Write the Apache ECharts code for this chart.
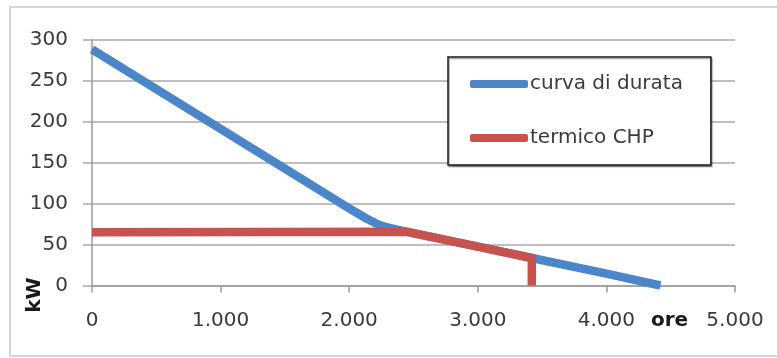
<!DOCTYPE html>
<html>
<head>
<meta charset="utf-8">
<script src="https://cdn.jsdelivr.net/npm/echarts@6/dist/echarts.min.js"></script>
<style>
html,body{margin:0;padding:0;background:#fff;}
#chart{width:777px;height:358px;}
</style>
</head>
<body>
<div id="chart"></div>
<script>
// Data
const seriesNames = ['curva di durata', 'termico CHP'];
const curvaDiDurata = [[0, 288], [1000, 191], [2000, 94], [2130, 82], [2230, 74], [2330, 69.5], [2450, 65.5], [3000, 47.5], [3420, 33.5], [4000, 14.5], [4420, 0]];
const termicoCHP = [[0, 65], [2450, 65.5], [3000, 47.5], [3420, 33.5], [3420, 0]];
const xTickValues = [0, 1000, 2000, 3000, 4000, 5000];
const xTickLabels = ['0', '1.000', '2.000', '3.000', '4.000', '5.000'];
const yTickLabels = ['0', '50', '100', '150', '200', '250', '300'];
const xAxisName = 'ore';
const yAxisName = 'kW';

const FONT = 'DejaVu Sans';
const chart = echarts.init(document.getElementById('chart'), null, {renderer: 'canvas'});
chart.setOption({
  animation: false,
  backgroundColor: '#ffffff',
  textStyle: {fontFamily: FONT},
  grid: {left: 92, right: 42, top: 39.5, bottom: 72.5, containLabel: false},
  xAxis: {
    type: 'value', min: 0, max: 5000, interval: 1000,
    axisLine: {show: true, lineStyle: {color: '#9a9a9a', width: 1.5}},
    axisTick: {show: true, length: 7, lineStyle: {color: '#9a9a9a', width: 1.5}},
    splitLine: {show: false},
    axisLabel: {
      margin: 25, fontSize: 20, color: '#3a3a3a', fontFamily: FONT,
      formatter: v => { const i = xTickValues.indexOf(v); return i >= 0 ? xTickLabels[i] : ''; }
    }
  },
  yAxis: {
    type: 'value', min: 0, max: 300, interval: 50,
    axisLine: {show: true, lineStyle: {color: '#9a9a9a', width: 1.5}},
    axisTick: {show: true, length: 9, lineStyle: {color: '#a8a8a8', width: 1.5}},
    splitLine: {show: true, lineStyle: {color: '#a8a8a8', width: 1.5}},
    axisLabel: {
      margin: 24, fontSize: 20, color: '#3a3a3a', fontFamily: FONT,
      formatter: v => yTickLabels[Math.round(v / 50)]
    }
  },
  legend: {
    show: true, orient: 'vertical', left: 448, top: 57,
    padding: [17, 28, 17, 22], itemGap: 34,
    itemWidth: 58, itemHeight: 8,
    backgroundColor: '#ffffff',
    borderColor: '#1a1a1a', borderWidth: 1.5,
    shadowColor: 'rgba(0,0,0,0.35)', shadowOffsetX: 1, shadowOffsetY: 1.5, shadowBlur: 1,
    textStyle: {fontSize: 20, color: '#3a3a3a', fontFamily: FONT, padding: [0, 0, 0, -3]},
    icon: 'roundRect',
    data: seriesNames
  },
  graphic: [
    {type: 'rect', shape: {x: 10, y: 7, width: 790, height: 349}, style: {fill: 'none', stroke: '#c8c8c8', lineWidth: 1.5}, silent: true, z: -1},
    {type: 'text', left: 651, top: 311, style: {text: xAxisName, font: 'bold 20px "DejaVu Sans"', fill: '#1a1a1a'}},
    {type: 'text', x: 35, y: 295, rotation: Math.PI / 2, style: {text: yAxisName, font: 'bold 20px "DejaVu Sans"', fill: '#1a1a1a', align: 'center', verticalAlign: 'middle'}}
  ],
  series: [
    {name: seriesNames[0], type: 'line', data: curvaDiDurata, showSymbol: false, symbol: 'none', smooth: false,
     lineStyle: {color: '#4A86C8', width: 8.5, cap: 'butt', join: 'round'}, itemStyle: {color: '#4A86C8'}, z: 2},
    {name: seriesNames[1], type: 'line', data: termicoCHP, showSymbol: false, symbol: 'none', smooth: false,
     lineStyle: {color: '#C8524E', width: 8.5, cap: 'butt', join: 'miter'}, itemStyle: {color: '#C8524E'}, z: 3}
  ]
});
</script>
</body>
</html>
